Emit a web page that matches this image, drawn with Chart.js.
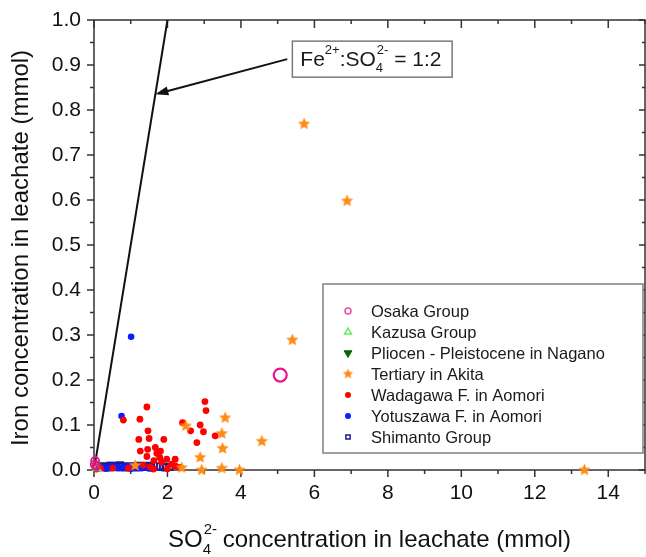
<!DOCTYPE html>
<html>
<head>
<meta charset="utf-8">
<script src="https://cdn.jsdelivr.net/npm/chart.js@4.4.1/dist/chart.umd.min.js"></script>
<style>
  html, body { margin: 0; padding: 0; background: #fff; }
  #wrap { width: 646px; height: 557px; }
</style>
</head>
<body>
<div id="wrap"><canvas id="chart" width="646" height="557"></canvas></div>
<script>
// ---------------- DATA ----------------
// SO4(2-) (x) vs Fe (y) in leachate, mmol

const seriesNames = [
  "Osaka Group",
  "Kazusa Group",
  "Pliocen - Pleistocene in Nagano",
  "Tertiary in Akita",
  "Wadagawa F. in Aomori",
  "Yotuszawa F. in Aomori",
  "Shimanto Group"
];

const osakaX = [0.03, 0.06, 0.02, 5.07];
const osakaY = [0.02, 0.008, 0.012, 0.211];

const kazusaX = [0.08];
const kazusaY = [0.004];

const pliocenX = [0.1];
const pliocenY = [0.01];

const akitaX = [5.72, 6.89, 5.40, 3.57, 3.48, 3.50, 2.89, 2.50, 4.57, 2.93, 3.48, 3.96, 2.39, 1.12, 13.35];
const akitaY = [0.769, 0.598, 0.289, 0.116, 0.081, 0.048, 0.028, 0.098, 0.064, 0.0, 0.004, 0.0, 0.005, 0.01, 0.0];

const wadagawaX = [1.44, 3.02, 3.05, 1.25, 0.80, 2.41, 1.47, 2.63, 2.89, 2.98, 3.30, 1.22, 1.50, 1.90,
  2.80, 1.67, 1.26, 1.46, 1.81, 1.71, 1.44, 1.79, 1.98, 2.21, 1.63, 1.84, 2.12, 2.21, 2.34, 1.34,
  1.53, 2.00, 0.51, 0.18, 0.03, 0.93, 1.62, 0.07];
const wadagawaY = [0.140, 0.152, 0.132, 0.113, 0.111, 0.105, 0.087, 0.087, 0.100, 0.085, 0.076, 0.068, 0.070, 0.068,
  0.061, 0.050, 0.042, 0.046, 0.042, 0.037, 0.030, 0.028, 0.024, 0.024, 0.021, 0.018, 0.013, 0.009, 0.006, 0.011,
  0.007, 0.003, 0.004, 0.004, 0.007, 0.004, 0.002, 0.002];

const yotuszawaX = [1.01, 0.75, 0.10, 0.18, 0.25, 0.33, 0.40, 0.48, 0.55, 0.63, 0.70, 0.78, 0.85, 0.93,
  1.00, 1.08, 1.15, 1.23, 1.30, 1.38, 1.45, 1.52, 1.60];
const yotuszawaY = [0.296, 0.120, 0.004, 0.007, 0.006, 0.003, 0.005, 0.008, 0.007, 0.004, 0.004, 0.006, 0.005, 0.008,
  0.003, 0.005, 0.006, 0.004, 0.004, 0.007, 0.005, 0.004, 0.003];

const shimantoX = [0.20, 0.28, 0.35, 0.43, 0.50, 0.60, 0.70, 0.78, 0.85, 1.00, 1.10, 1.18, 1.25, 1.33,
  1.40, 1.48, 1.55, 1.80, 1.88, 1.95, 2.05];
const shimantoY = [0.008, 0.007, 0.006, 0.009, 0.009, 0.007, 0.010, 0.008, 0.006, 0.008, 0.006, 0.008, 0.009, 0.007,
  0.007, 0.009, 0.006, 0.008, 0.007, 0.006, 0.007];

// Fe2+ : SO4 2- = 1:2 reference line
const ratioLineX = [0, 2];
const ratioLineY = [0, 1];

const xTicks = [0, 2, 4, 6, 8, 10, 12, 14];
const yTicks = [0, 0.1, 0.2, 0.3, 0.4, 0.5, 0.6, 0.7, 0.8, 0.9, 1.0];

// ---------------- HELPERS ----------------
const FONT = 'Arial, "Liberation Sans", Helvetica, sans-serif';

function pts(xs, ys) {
  return xs.map((x, i) => ({ x: x, y: ys[i] }));
}

// filled five-point star used as a point marker
function makeStar(r, color) {
  const s = Math.ceil(r * 2 + 2);
  const c = document.createElement("canvas");
  c.width = s; c.height = s;
  const g = c.getContext("2d");
  g.fillStyle = color;
  g.beginPath();
  for (let i = 0; i < 10; i++) {
    const rad = i % 2 ? r * 0.45 : r;
    const a = -Math.PI / 2 + i * Math.PI / 5;
    g.lineTo(s / 2 + rad * Math.cos(a), s / 2 + rad * Math.sin(a));
  }
  g.closePath();
  g.fill();
  return c;
}

const ORANGE = "#ff8a14";
const starBig = makeStar(6.5, ORANGE);
const starSmall = makeStar(5.5, ORANGE);

// marker styles, one per series (also used by the legend box)
const markers = [
  { pointStyle: "circle", radius: 3.5, rotation: 0, border: "#f04a9c", fill: "rgba(0,0,0,0)", bw: 1.5 },
  { pointStyle: "triangle", radius: 4.5, rotation: 0, border: "#66ee66", fill: "rgba(0,0,0,0)", bw: 1.5 },
  { pointStyle: "triangle", radius: 4.5, rotation: 180, border: "#006a00", fill: "#006a00", bw: 1 },
  { pointStyle: starSmall, radius: 5, rotation: 0, border: ORANGE, fill: ORANGE, bw: 0 },
  { pointStyle: "circle", radius: 3, rotation: 0, border: "#ff0000", fill: "#ff0000", bw: 0 },
  { pointStyle: "circle", radius: 3, rotation: 0, border: "#0a1eff", fill: "#0a1eff", bw: 0 },
  { pointStyle: "rect", radius: 4, rotation: 0, border: "#1c1c90", fill: "rgba(0,0,0,0)", bw: 1.5 }
];

// ---------------- PLUGINS ----------------
// frame with Origin-style ticks: outward on left/bottom, inward on top/right
const framePlugin = {
  id: "frame",
  beforeDatasetsDraw(chart) {
    const { ctx, chartArea: a, scales } = chart;
    const xs = scales.x, ys = scales.y;
    ctx.save();
    ctx.strokeStyle = "#333";
    ctx.lineWidth = 1.5;
    ctx.strokeRect(a.left, a.top, a.right - a.left, a.bottom - a.top);
    ctx.beginPath();
    for (let v = 0; v <= 15; v++) {
      const px = xs.getPixelForValue(v);
      const major = v % 2 === 0;
      ctx.moveTo(px, a.bottom); ctx.lineTo(px, a.bottom + (major ? 7 : 4));
      ctx.moveTo(px, a.top); ctx.lineTo(px, a.top + (major ? 8 : 4));
    }
    for (let i = 0; i <= 20; i++) {
      const py = ys.getPixelForValue(i * 0.05);
      const major = i % 2 === 0;
      ctx.moveTo(a.left, py); ctx.lineTo(a.left - (major ? 7 : 4), py);
      ctx.moveTo(a.right, py); ctx.lineTo(a.right - (major ? 6 : 3), py);
    }
    ctx.stroke();
    ctx.restore();
  }
};

// axis titles (x title carries sub/superscripts)
const titlesPlugin = {
  id: "titles",
  afterDraw(chart) {
    const { ctx, chartArea: a } = chart;
    ctx.save();
    ctx.fillStyle = "#111";
    ctx.textBaseline = "alphabetic";

    // y title
    ctx.save();
    ctx.translate(28, (a.top + a.bottom) / 2 + 3);
    ctx.rotate(-Math.PI / 2);
    ctx.font = "24px " + FONT;
    ctx.textAlign = "center";
    ctx.fillText("Iron concentration in leachate (mmol)", 0, 0);
    ctx.restore();

    // x title
    const big = "24px " + FONT, small = "15px " + FONT;
    ctx.font = big;
    const wSO = ctx.measureText("SO").width;
    const rest = " concentration in leachate (mmol)";
    const wRest = ctx.measureText(rest).width;
    ctx.font = small;
    const wScript = Math.max(ctx.measureText("4").width, ctx.measureText("2-").width);
    const total = wSO + wScript + wRest;
    let x = (a.left + a.right) / 2 - total / 2;
    const base = 547;
    ctx.textAlign = "left";
    ctx.font = big;
    ctx.fillText("SO", x, base);
    x += wSO;
    ctx.font = small;
    ctx.fillText("4", x, base + 7);
    ctx.fillText("2-", x + 1, base - 13);
    x += wScript;
    ctx.font = big;
    ctx.fillText(rest, x, base);
    ctx.restore();
  }
};

// label box with arrow pointing at the 1:2 line
const notePlugin = {
  id: "note",
  afterDatasetsDraw(chart) {
    const { ctx, scales } = chart;
    const xs = scales.x, ys = scales.y;
    ctx.save();

    // arrow
    const x0 = xs.getPixelForValue(5.26), y0 = ys.getPixelForValue(0.913);
    const x1 = xs.getPixelForValue(1.67), y1 = ys.getPixelForValue(0.835);
    const ang = Math.atan2(y1 - y0, x1 - x0);
    ctx.strokeStyle = "#111";
    ctx.fillStyle = "#111";
    ctx.lineWidth = 2;
    ctx.beginPath();
    ctx.moveTo(x0, y0);
    ctx.lineTo(x1 - 10 * Math.cos(ang), y1 - 10 * Math.sin(ang));
    ctx.stroke();
    ctx.beginPath();
    ctx.moveTo(x1, y1);
    ctx.lineTo(x1 - 13 * Math.cos(ang) + 4.5 * Math.sin(ang), y1 - 13 * Math.sin(ang) - 4.5 * Math.cos(ang));
    ctx.lineTo(x1 - 13 * Math.cos(ang) - 4.5 * Math.sin(ang), y1 - 13 * Math.sin(ang) + 4.5 * Math.cos(ang));
    ctx.closePath();
    ctx.fill();

    // box
    const bl = xs.getPixelForValue(5.4), bt = ys.getPixelForValue(0.953);
    const br = xs.getPixelForValue(9.75), bb = ys.getPixelForValue(0.873);
    ctx.strokeStyle = "#7a7a7a";
    ctx.lineWidth = 1.5;
    ctx.strokeRect(bl, bt, br - bl, bb - bt);

    // text
    const big = "21px " + FONT, small = "13px " + FONT;
    const base = bb - 11;
    let x = bl + 8;
    ctx.fillStyle = "#1a1a1a";
    ctx.textAlign = "left";
    ctx.textBaseline = "alphabetic";
    ctx.font = big; ctx.fillText("Fe", x, base); x += ctx.measureText("Fe").width;
    ctx.font = small; ctx.fillText("2+", x, base - 12); x += ctx.measureText("2+").width;
    ctx.font = big; ctx.fillText(":SO", x, base); x += ctx.measureText(":SO").width;
    ctx.font = small;
    ctx.fillText("4", x, base + 6);
    ctx.fillText("2-", x + 1, base - 12);
    x += ctx.measureText("2-").width + 1;
    ctx.font = big; ctx.fillText(" = 1:2", x, base);
    ctx.restore();
  }
};

// legend box inside the plot
const legendPlugin = {
  id: "boxLegend",
  afterDatasetsDraw(chart) {
    const { ctx, chartArea: a } = chart;
    const left = a.left + 229, top = a.top + 264;
    const right = a.right - 2, bottom = top + 169;
    ctx.save();
    ctx.fillStyle = "#fff";
    ctx.fillRect(left, top, right - left, bottom - top);
    ctx.strokeStyle = "#808080";
    ctx.lineWidth = 1.5;
    ctx.strokeRect(left, top, right - left, bottom - top);
    ctx.font = "16.5px " + FONT;
    ctx.textBaseline = "middle";
    ctx.textAlign = "left";
    seriesNames.forEach((name, i) => {
      const y = top + 27 + i * 21;
      const m = markers[i];
      const opts = { pointStyle: m.pointStyle, radius: m.radius, rotation: m.rotation, borderWidth: m.bw };
      ctx.fillStyle = m.fill;
      ctx.strokeStyle = m.border;
      ctx.lineWidth = m.bw;
      if (i === 0 || i === 6) opts.radius = 3;
      if (i === 1) opts.radius = 4;
      Chart.helpers.drawPoint(ctx, opts, left + 25, y);
      ctx.fillStyle = "#1a1a1a";
      ctx.fillText(name, left + 48, y + 1);
    });
    ctx.restore();
  }
};

// ---------------- CHART ----------------
function scatterSet(i, data, extra) {
  const m = markers[i];
  return Object.assign({
    label: seriesNames[i],
    data: data,
    pointStyle: m.pointStyle,
    pointRadius: m.radius,
    pointRotation: m.rotation,
    pointBorderColor: m.border,
    pointBackgroundColor: m.fill,
    pointBorderWidth: m.bw,
    showLine: false,
    clip: false
  }, extra || {});
}

const datasets = [
  scatterSet(0, pts(osakaX, osakaY), { pointRadius: [4, 4, 4, 6.5], pointBorderWidth: [1.8, 1.8, 1.8, 2.2], pointBorderColor: "#e8158c" }),
  scatterSet(1, pts(kazusaX, kazusaY)),
  scatterSet(2, pts(pliocenX, pliocenY)),
  scatterSet(3, pts(akitaX, akitaY), { pointStyle: starBig }),
  scatterSet(4, pts(wadagawaX, wadagawaY), { pointRadius: 3.4 }),
  scatterSet(5, pts(yotuszawaX, yotuszawaY), { pointRadius: 3.3 }),
  scatterSet(6, pts(shimantoX, shimantoY), { pointRadius: 4.5, pointBorderWidth: 2 }),
  {
    label: "1:2",
    data: pts(ratioLineX, ratioLineY),
    showLine: true,
    pointRadius: 0,
    borderColor: "#111",
    borderWidth: 2,
    order: 1
  }
];

new Chart(document.getElementById("chart"), {
  type: "scatter",
  data: { datasets: datasets },
  options: {
    responsive: false,
    devicePixelRatio: 1,
    animation: false,
    events: [],
    layout: { autoPadding: false, padding: { top: 20, right: 1, left: 0, bottom: 0 } },
    plugins: { legend: { display: false }, tooltip: { enabled: false } },
    scales: {
      x: {
        type: "linear",
        min: 0,
        max: 15,
        afterBuildTicks: s => { s.ticks = xTicks.map(v => ({ value: v })); },
        afterFit: s => { s.height = 87; s.paddingLeft = 0; s.paddingRight = 0; },
        grid: { display: false, drawTicks: false },
        border: { display: false },
        ticks: { padding: 11, color: "#111", font: { family: FONT, size: 21 } }
      },
      y: {
        type: "linear",
        min: 0,
        max: 1,
        afterBuildTicks: s => { s.ticks = yTicks.map(v => ({ value: v })); },
        afterFit: s => { s.width = 94; s.paddingTop = 0; s.paddingBottom = 0; },
        grid: { display: false, drawTicks: false },
        border: { display: false },
        ticks: { padding: 13, color: "#111", font: { family: FONT, size: 21 },
          callback: v => Number(v).toFixed(1) }
      }
    }
  },
  plugins: [framePlugin, notePlugin, legendPlugin, titlesPlugin]
});
</script>
</body>
</html>
